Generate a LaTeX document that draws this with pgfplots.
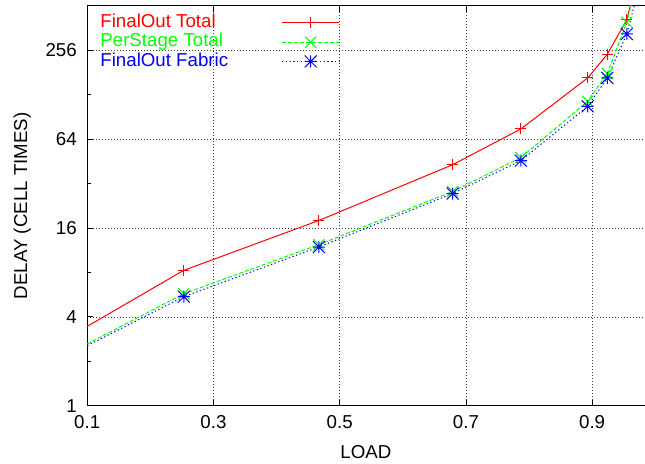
\documentclass[border=0pt]{standalone}
\usepackage{pgfplots}
\pgfplotsset{compat=1.18}
\usepackage{fontspec}
\setmainfont{Liberation Sans}

% gnuplot-like point types
\pgfdeclareplotmark{gpplus}{%
  \pgfpathmoveto{\pgfqpoint{-\pgfplotmarksize}{0pt}}\pgfpathlineto{\pgfqpoint{\pgfplotmarksize}{0pt}}%
  \pgfpathmoveto{\pgfqpoint{0pt}{-\pgfplotmarksize}}\pgfpathlineto{\pgfqpoint{0pt}{\pgfplotmarksize}}%
  \pgfusepathqstroke}
\pgfdeclareplotmark{gpcross}{%
  \pgfpathmoveto{\pgfqpoint{-\pgfplotmarksize}{-\pgfplotmarksize}}\pgfpathlineto{\pgfqpoint{\pgfplotmarksize}{\pgfplotmarksize}}%
  \pgfpathmoveto{\pgfqpoint{-\pgfplotmarksize}{\pgfplotmarksize}}\pgfpathlineto{\pgfqpoint{\pgfplotmarksize}{-\pgfplotmarksize}}%
  \pgfusepathqstroke}
\pgfdeclareplotmark{gpstar}{%
  \pgfpathmoveto{\pgfqpoint{-\pgfplotmarksize}{0pt}}\pgfpathlineto{\pgfqpoint{\pgfplotmarksize}{0pt}}%
  \pgfpathmoveto{\pgfqpoint{0pt}{-\pgfplotmarksize}}\pgfpathlineto{\pgfqpoint{0pt}{\pgfplotmarksize}}%
  \pgfpathmoveto{\pgfqpoint{-\pgfplotmarksize}{-\pgfplotmarksize}}\pgfpathlineto{\pgfqpoint{\pgfplotmarksize}{\pgfplotmarksize}}%
  \pgfpathmoveto{\pgfqpoint{-\pgfplotmarksize}{\pgfplotmarksize}}\pgfpathlineto{\pgfqpoint{\pgfplotmarksize}{-\pgfplotmarksize}}%
  \pgfusepathqstroke}

\begin{document}
\begin{tikzpicture}
\begin{axis}[
  scale only axis,
  width=557.7pt, height=400pt,
  font=\fontsize{18.7}{22}\selectfont,
  xmin=0.1, xmax=0.983,
  ymode=log, log basis y=2,
  ymin=1, ymax=512,
  axis y line*=left,
  xtick={0.1,0.3,0.5,0.7,0.9},
  xticklabels={0.1,0.3,0.5,0.7,0.9},
  ytick={1,4,16,64,256},
  yticklabels={1,4,16,64,256},
  minor tick num=0,
  extra y ticks={2,8,32,128},
  extra y tick labels={},
  extra y tick style={major tick length=3.5pt, grid=none},
  tick align=inside,
  major tick length=6pt,
  every tick/.style={black, line width=0.8pt},
  axis line style={line width=1pt},
  grid=major,
  major grid style={black!75, line width=0.7pt, dash pattern=on 1pt off 2pt},
  xticklabel style={yshift=-6pt},
  yticklabel style={xshift=-7pt},
  xlabel={LOAD},
  ylabel={DELAY (CELL TIMES)},
  xlabel style={at={(axis description cs:0.5,-0.115)}, anchor=center},
  ylabel style={at={(axis description cs:-0.1166,0.5)}, anchor=center},
  legend plot pos=right,
  legend cell align=left,
  legend style={at={(axis description cs:0,1)}, anchor=north west,
    xshift=12.7pt, yshift=-7pt, draw=none, fill=none,
    inner sep=0pt, row sep=0pt, column sep=53pt,
    nodes={inner sep=0.3pt, text height=14pt, text depth=4.7pt}},
  legend image code/.code={\draw[mark repeat=2,mark phase=2,#1,mark indices={2}]
    plot coordinates {(0pt,0pt) (28.8pt,0pt) (57.6pt,0pt)};},
]
\addplot[color=red, solid, line width=1pt, mark=gpplus, mark size=5.5pt,
  mark options={solid}, mark indices={2,3,4,5,6,7,8}] coordinates {
  (0.1,3.45) (0.253,8.27) (0.467,18.0) (0.679,43.0) (0.787,75.1)
  (0.893,166.6) (0.924,240.7) (0.955,414) (0.97,740)};
\addlegendentry{\textcolor{red}{FinalOut Total}}
\addplot[color=green, line width=1pt, dash pattern=on 4pt off 2pt,
  mark=gpcross, mark size=5.5pt, mark options={solid},
  mark indices={2,3,4,5,6,7,8}] coordinates {
  (0.1,2.62) (0.253,5.74) (0.467,12.35) (0.679,28.3) (0.787,48.0)
  (0.893,115.6) (0.924,178.2) (0.955,397) (0.97,730)};
\addlegendentry{\textcolor{green}{PerStage Total}}
\addplot[color=blue, line width=1pt, dash pattern=on 1.3pt off 2.5pt,
  mark=gpstar, mark size=6pt, mark options={solid},
  mark indices={2,3,4,5,6,7,8}] coordinates {
  (0.1,2.55) (0.253,5.48) (0.467,11.9) (0.679,27.4) (0.787,45.8)
  (0.893,107) (0.924,166.6) (0.955,331) (0.97,580)};
\addlegendentry{\textcolor{blue}{FinalOut Fabric}}
\end{axis}
\path ([xshift=-87.3pt,yshift=-58pt]current axis.south west) rectangle ([yshift=6pt]current axis.north east);
\end{tikzpicture}
\end{document}
